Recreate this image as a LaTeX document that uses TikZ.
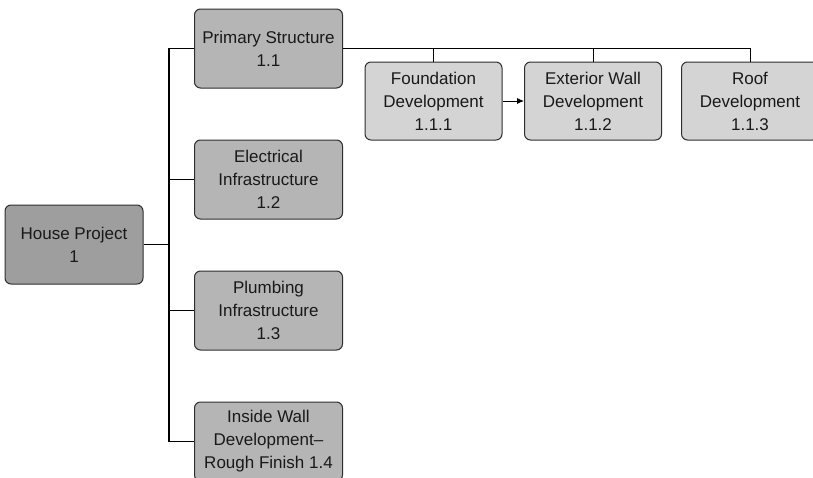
\documentclass[tikz,border=0pt]{standalone}
\usepackage{fontspec}
\setmainfont{Liberation Sans}
\usetikzlibrary{arrows.meta}
\definecolor{rootfill}{HTML}{9E9E9E}
\definecolor{midfill}{HTML}{B5B5B5}
\definecolor{leaffill}{HTML}{D4D4D4}
\definecolor{edge}{HTML}{2E2E2E}
\begin{document}
\begin{tikzpicture}[x=1pt,y=-1pt,
  wbs/.style={draw=edge, line width=1pt, rounded corners=6pt, align=center,
    inner sep=0pt, font=\fontsize{17}{23}\selectfont, text=black!90},
  rootbox/.style={wbs, fill=rootfill, minimum width=138pt, minimum height=79pt},
  midbox/.style={wbs, fill=midfill, minimum width=148pt, minimum height=79pt},
  leafbox/.style={wbs, fill=leaffill, minimum width=137pt, minimum height=78pt},
  link/.style={draw=black, line width=0.9pt},
  trunk/.style={draw=black, line width=1.3pt}]
\useasboundingbox (0,0) rectangle (813,477);
\clip (0,0) rectangle (813,477);

% boxes
\node[rootbox] (house) at (74,244.5) {House Project\\1};
\node[midbox] (primary) at (268.5,48.5) {Primary Structure\\1.1};
\node[midbox] (elec) at (268.5,179.5) {Electrical\\Infrastructure\\1.2};
\node[midbox] (plumb) at (268.5,310.5) {Plumbing\\Infrastructure\\1.3};
\node[midbox] (inside) at (268.5,441.5) {Inside Wall\\Development–\\Rough Finish 1.4};
\node[leafbox] (found) at (433.5,101) {Foundation\\Development\\1.1.1};
\node[leafbox] (ext) at (593,101) {Exterior Wall\\Development\\1.1.2};
\node[leafbox] (roof) at (750,101) {Roof\\Development\\1.1.3};

% vertical spine of the second level
\coordinate (tk) at (169,0);
\draw[trunk] (primary.west) -- (primary.west -| tk) |- (inside.west);
\draw[trunk] (house.east) -- (house.east -| tk);
\draw[link] (elec.west) -- (elec.west -| tk);
\draw[link] (plumb.west) -- (plumb.west -| tk);

% bus to the third level
\draw[link] (primary.east) -| (roof.north);
\draw[link] (found.north) -- (found.north |- primary.east);
\draw[link] (ext.north) -- (ext.north |- primary.east);

% sequence dependency
\draw[link, -{Latex[length=7pt,width=6pt]}] (found.east) -- (ext.west);
\end{tikzpicture}
\end{document}
